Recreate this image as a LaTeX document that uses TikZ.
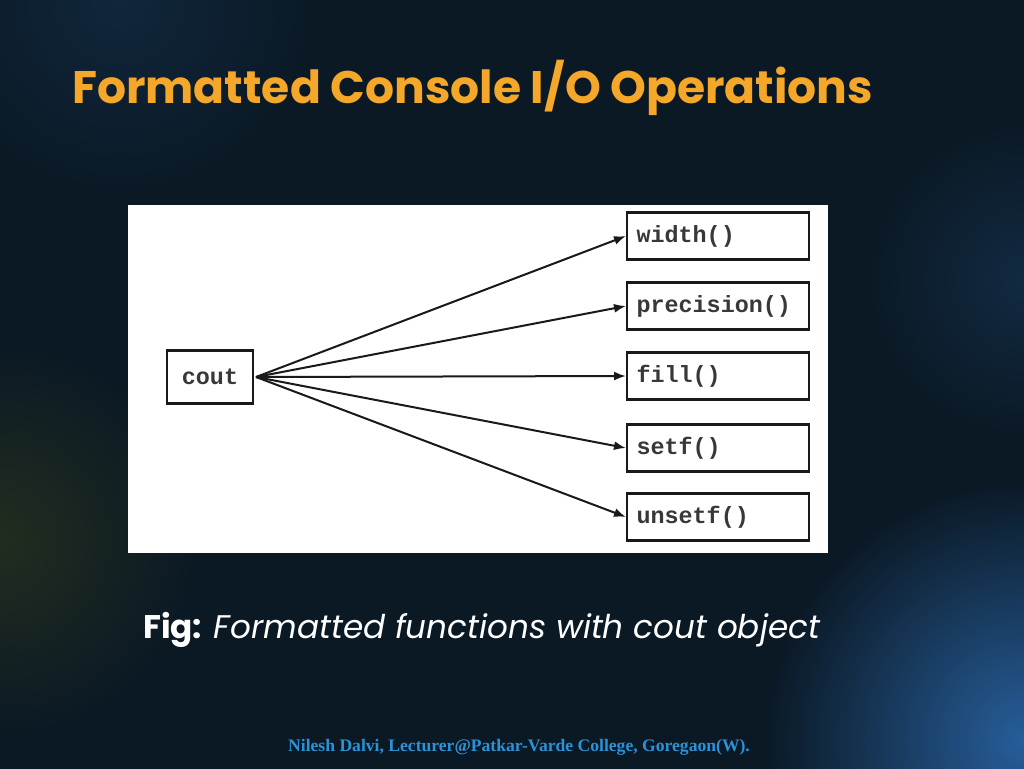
\documentclass[tikz,border=0pt]{standalone}
\usepackage{fontspec}
\setmainfont{Liberation Serif}
\newfontfamily\titlefont{Poppins}
\newfontfamily\codefont{Liberation Mono}
\usetikzlibrary{arrows.meta}
\definecolor{bg}{HTML}{0B1925}
\definecolor{glow}{HTML}{2E6FB8}
\definecolor{titleor}{HTML}{F4A728}
\definecolor{footblue}{HTML}{2A92D6}
\tikzset{
  fnbox/.style={draw=black!90, line width=2.2pt, fill=white, minimum width=182pt, minimum height=47pt, inner sep=0pt},
  fntext/.style={anchor=west, font=\codefont\bfseries\fontsize{23.4}{25}\selectfont, text=black!78},
  link/.style={-{Latex[length=12pt,width=9pt]}, line width=2pt, black!90},
}
\begin{document}
\begin{tikzpicture}[x=1pt,y=-1pt]
\useasboundingbox (0,0) rectangle (1024,768);
\fill[bg] (-4,-4) rectangle (1028,772);
\begin{scope}
\clip (-4,-4) rectangle (1028,772);
\shade[inner color=glow, outer color=bg, opacity=0.8] (1024,740) circle (260);
\shade[inner color=glow!50!bg, outer color=bg, opacity=0.4] (1024,280) circle (160);
\shade[inner color=black!40!yellow!40!bg, outer color=bg, opacity=0.4] (0,540) circle (200);
\shade[inner color=glow!40!bg, outer color=bg, opacity=0.4] (120,0) circle (200);
\end{scope}
% title
\node[anchor=base west, inner sep=0pt, text=titleor, font=\titlefont\bfseries\fontsize{45.6}{50}\selectfont] (title) at (72,103) {Formatted Console I/O Operations};
% white panel
\fill[white] (128,205) rectangle (828,553);
% nodes
\node[draw=black!90, line width=2.2pt, minimum width=86pt, minimum height=53pt, inner sep=0pt, font=\codefont\bfseries\fontsize{23.4}{25}\selectfont, text=black!78] (cout) at (210,377) {cout};
\node[fnbox, anchor=west] (w) at (626,236) {};
\node[fnbox, anchor=west] (p) at (626,306) {};
\node[fnbox, anchor=west] (f) at (626,376) {};
\node[fnbox, anchor=west] (s) at (626,448) {};
\node[fnbox, anchor=west] (u) at (626,517) {};
\node[fntext] at ([xshift=7pt]w.west) {width()};
\node[fntext] at ([xshift=7pt]p.west) {precision()};
\node[fntext] at ([xshift=7pt]f.west) {fill()};
\node[fntext] at ([xshift=7pt]s.west) {setf()};
\node[fntext] at ([xshift=7pt]u.west) {unsetf()};
\coordinate (o) at (256,377);
\draw[link] (o) -- (w.west);
\draw[link] (o) -- (p.west);
\draw[link] (o) -- (f.west);
\draw[link] (o) -- (s.west);
\draw[link] (o) -- (u.west);
% caption
\node[anchor=base west, inner sep=0pt, text=white, font=\titlefont\fontsize{32.7}{36}\selectfont] (cap) at (143,638) {\textbf{Fig:} \textit{Formatted functions with cout object}};
% footer
\node[anchor=base, inner sep=0pt, text=footblue, font=\bfseries\fontsize{17.6}{19}\selectfont] (foot) at (519,751) {Nilesh Dalvi, Lecturer@Patkar-Varde College, Goregaon(W).};
\end{tikzpicture}
\end{document}
